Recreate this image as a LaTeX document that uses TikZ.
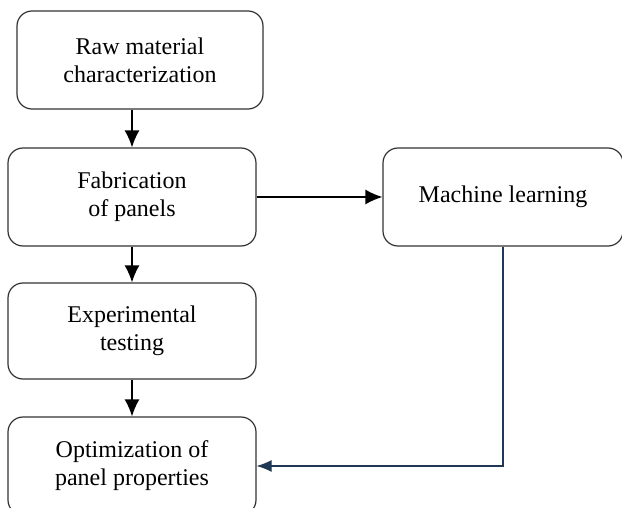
\documentclass[tikz,border=0pt]{standalone}
\usepackage{fontspec}
\setmainfont{Liberation Serif}
\usetikzlibrary{arrows.meta}
\definecolor{navy}{HTML}{1F3855}
\begin{document}
\begin{tikzpicture}[x=1pt,y=-1pt,
    stage/.style={draw=black!80, line width=1.2pt, rounded corners=15pt, align=center,
        minimum height=98pt, font=\fontsize{24}{28}\selectfont},
    flow/.style={line width=1.5pt, -{Latex[length=17pt,width=15pt]}}]
            \useasboundingbox (0,0) rectangle (622,508);

            \node[stage, minimum width=246pt] (raw) at (140,60) {Raw material\\characterization};
            \node[stage, minimum width=248pt] (fab) at (132,197) {Fabrication\\of panels};
            \node[stage, minimum width=248pt, minimum height=96pt] (exp) at (132,331) {Experimental\\testing};
            \node[stage, minimum width=248pt] (opt) at (132,466) {Optimization of\\panel properties};
            \node[stage, minimum width=240pt] (ml) at (503,197) {Machine learning};

            \draw[flow] (fab.north |- raw.south) -- (fab.north);
            \draw[flow] (fab.south) -- (exp.north);
            \draw[flow] (exp.south) -- (opt.north);
            \draw[flow] (fab.east) -- (ml.west);
            \draw[navy, line width=1.1pt, -{Latex[length=15pt,width=12pt]}] (ml.south) -- (ml.south |- opt.east) -- (opt.east);
        \end{tikzpicture}
\end{document}
